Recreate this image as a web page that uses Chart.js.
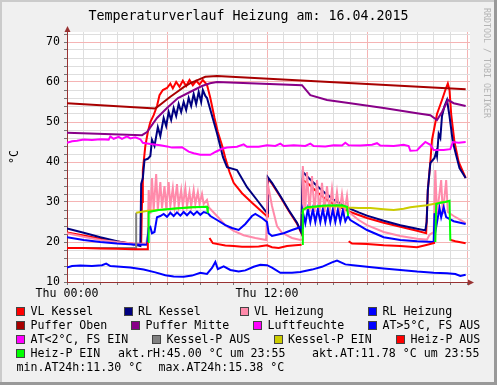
<!DOCTYPE html>
<html>
<head>
<meta charset="utf-8">
<script src="https://cdn.jsdelivr.net/npm/chart.js@4.4.1/dist/chart.umd.min.js"></script>
<style>
body { margin: 0; background: #f0f0f0; }
#wrap { position: relative; width: 497px; height: 385px; background: #f0f0f0; overflow: hidden;
        font-family: "DejaVu Sans Mono", monospace; color: #000; }
canvas { position: absolute; left: 0; top: 0; }
.t { position: absolute; white-space: pre; font-size: 11.6px; line-height: 14px; }
.box { position: absolute; width: 7px; height: 7px; border: 1px solid #444; }
.edge { position: absolute; }
</style>
</head>
<body>
<div id="wrap">
  <canvas id="chart" width="497" height="385"></canvas>
  <div id="title" class="t" style="left:0;width:497px;text-align:center;top:8px;font-size:13.3px;line-height:16px;"></div>
  <div id="unit" class="t" style="left:14px;top:157px;transform:translate(-50%,-50%) rotate(-90deg);"></div>
  <div id="credit" class="t" style="left:487px;top:63px;font-size:8.3px;line-height:10px;color:#b4b4b4;transform:translate(-50%,-50%) rotate(90deg);"></div>
  <div id="legend"></div>
  <div class="edge" style="left:0;top:0;width:497px;height:2px;background:#cbcbcb"></div>
  <div class="edge" style="left:0;top:0;width:2px;height:385px;background:#cbcbcb"></div>
  <div class="edge" style="left:494px;top:0;width:3px;height:385px;background:#999"></div>
  <div class="edge" style="left:0;top:382px;width:497px;height:3px;background:#999"></div>
</div>
<script>
// x = hours since Thu 00:00, y = °C (Luftfeuchte in %)
const chartTitle = 'Temperaturverlauf Heizung am: 16.04.2015';
const unitLabel = '°C';
const creditText = 'RRDTOOL / TOBI OETIKER';
const tickHours = [0, 12];
const tickLabels = ['Thu 00:00', 'Thu 12:00'];

const seriesNames = ['VL Kessel', 'RL Kessel', 'VL Heizung', 'RL Heizung', 'Puffer Oben', 'Puffer Mitte',
  'Luftfeuchte', 'AT>5°C, FS AUS', 'AT<2°C, FS EIN', 'Kessel-P AUS', 'Kessel-P EIN', 'Heiz-P AUS', 'Heiz-P EIN'];
const seriesColors = ['#ff0000', '#000080', '#ff8aaa', '#0000ff', '#a80000', '#880088',
  '#ff00ff', '#0000ff', '#ff00ff', '#808080', '#cccc00', '#ff0000', '#00ff00'];
const infoTexts = ['akt.rH:45.00 °C um 23:55', 'akt.AT:11.78 °C um 23:55', 'min.AT24h:11.30 °C', 'max.AT24h:15.38 °C'];

const vlKessel = [[0,22.4],[1,21.6],[2,20.8],[3,20.1],[4.35,19.3],[4.45,19.4],[4.5,30],[4.55,38],[4.7,44],
  [4.85,47.5],[5.0,50],[5.2,51.7],[5.4,54],[5.55,56.7],[5.75,58],[6.0,58.5],[6.2,59.6],[6.35,58.4],[6.55,60],
  [6.75,58.8],[6.95,60.3],[7.15,59],[7.35,60.5],[7.55,59.2],[7.75,60.3],[7.95,59.4],[8.15,60.5],[8.4,59.3],
  [8.6,56],[8.85,51],[9.05,47.5],[9.3,44.2],[9.5,41],[9.75,37.5],[10.0,34.8],[10.5,32.2],[11.1,29.8],
  [11.9,26.8],[12.0,26.4],[12.05,35.9],[12.3,34.6],[12.8,31.3],[13.3,27.8],[13.8,24.6],[14.05,22.3],[14.15,35.5],
  [14.5,34.5],[15,32.5],[15.5,30.8],[16,29.5],[16.5,28.5],[17,27.5],[18,26],[19,24.8],[20,23.8],[21,22.8],
  [21.55,22.2],[21.65,33],[21.8,40],[21.9,45.5],[22.2,52],[22.5,55.5],[22.7,58],[22.85,59.6],[22.95,58],
  [23.05,52],[23.25,45],[23.5,40],[23.92,36]];
const rlKessel = [[0,23.4],[1,22.3],[2,21.2],[3,20.2],[4.0,19.4],[4.4,19.0],[4.45,34.5],[4.55,36],[4.65,40.5],
  [4.85,40.8],[5.0,41.5],[5.1,45.5],[5.25,44],[5.45,48.7],[5.6,46.5],[5.8,51],[5.95,49],[6.1,52.5],[6.25,50.5],
  [6.4,53.5],[6.55,51.5],[6.7,54.5],[6.85,52.5],[7.0,55],[7.15,53],[7.3,56],[7.45,54],[7.6,57],[7.75,54.5],
  [7.9,57.5],[8.05,55],[8.15,58],[8.3,56.5],[8.4,56],[9.0,47.2],[9.36,41.2],[9.6,38.7],[10.2,38],[10.8,33.7],
  [11.4,30.5],[11.9,27.8],[12.0,27.3],[12.05,36.2],[12.3,34.8],[12.8,31.5],[13.3,28],[13.8,24.8],[14.05,22.5],
  [14.15,37.5],[14.5,36],[15,34],[15.5,32.2],[16,30.6],[16.5,29.3],[17,28.3],[17.5,27.4],[18,26.6],[19,25.3],
  [20,24.2],[21,23.3],[21.5,22.9],[21.58,25],[21.65,33],[21.8,39.7],[21.95,40.5],[22.05,41],[22.15,42.5],
  [22.2,41.5],[22.3,47],[22.4,46],[22.5,51.5],[22.65,54],[22.8,55.5],[22.95,51.5],[23.15,45],[23.35,41.7],
  [23.55,38.5],[23.92,36]];
const vlHeizung = [[0,22.2],[1,21.3],[2,20.5],[3,20.0],[4.0,19.6],[4.75,19.5],[4.85,22],[4.9,33],[5.0,27],
  [5.1,36],[5.2,28],[5.35,37],[5.45,28],[5.6,35],[5.7,28.5],[5.85,34],[5.95,28.5],[6.1,35],[6.2,29],[6.35,33.5],
  [6.45,29],[6.6,34.5],[6.7,29],[6.85,33],[6.95,29],[7.1,33.5],[7.2,29],[7.35,32.5],[7.45,29],[7.6,33],
  [7.7,29.5],[7.85,32.5],[7.95,29.5],[8.1,32],[8.2,29.5],[8.4,30.5],[8.5,28.7],[9.0,26.5],[9.5,24.2],
  [10,22.8],[10.6,21.7],[11.3,21],[11.95,20.5],[12.05,34.5],[12.3,29],[12.6,24],[12.9,22.3],[13.5,21],
  [14.0,20.5],[14.1,20.6],[14.15,39],[14.3,28],[14.4,37.5],[14.55,27.5],[14.7,36.5],[14.85,27.5],[15.0,35.5],
  [15.15,27.5],[15.3,34.8],[15.45,27.5],[15.6,34],[15.75,27.5],[15.9,33.3],[16.05,27.5],[16.2,32.5],
  [16.35,27.5],[16.5,32],[16.65,27.5],[16.8,31.5],[16.9,27.5],[17.5,25.5],[18,24.2],[19,22.5],[20,21.5],
  [21,20.8],[21.6,20.6],[21.75,21.8],[22.0,22.5],[22.1,38],[22.2,27],[22.45,35.5],[22.55,27],[22.75,35.5],
  [22.85,27.5],[23.2,26.5],[23.5,25.8],[23.92,24.7]];
const rlHeizung = [[0,21.2],[1,20.5],[2,20],[3,19.6],[4.0,19.4],[4.8,19.3],[4.9,23.5],[5.0,23.8],[5.1,22.2],
  [5.25,22.5],[5.4,26.2],[5.6,26.5],[5.8,27.0],[6.0,26.3],[6.2,27.3],[6.4,26.5],[6.6,27.4],[6.8,26.6],
  [7.0,27.5],[7.2,26.7],[7.4,27.6],[7.6,26.8],[7.8,27.6],[8.0,26.8],[8.2,27.5],[8.45,27.2],[8.6,26.5],
  [9.0,25.5],[9.5,24.2],[9.9,23.5],[10.3,23.0],[10.7,24.5],[11.1,26.5],[11.3,27.0],[11.7,26],[12.0,25],
  [12.1,22.2],[12.3,21.5],[13.0,22.2],[13.5,23],[14.0,23.7],[14.1,23.5],[14.15,27.5],[14.3,24.7],
  [14.45,28.2],[14.6,25],[14.75,28.2],[14.9,25],[15.05,28.2],[15.2,25],[15.35,28.2],[15.5,25],[15.65,28.2],
  [15.8,25],[15.95,28.1],[16.1,25],[16.25,28.0],[16.4,25],[16.55,27.9],[16.7,25.2],[16.85,26.5],[17.0,25.5],
  [17.5,24.2],[18,23],[19,21.2],[20,20.5],[21,20.2],[22,20],[22.05,27.2],[22.15,23.7],[22.35,28.5],
  [22.45,26.2],[22.6,28.7],[22.75,26.2],[23.2,25.2],[23.92,24.5]];
const pufferOben = [[0,54.7],[5.3,53.4],[5.55,54.2],[5.8,55],[6.2,56.3],[6.6,57.5],[7.0,58.7],[7.4,59.7],
  [7.9,60.6],[8.3,61.3],[9.0,61.5],[23.92,58.2]];
const pufferMitte = [[0,47.3],[4.5,46.7],[4.8,47.5],[5.4,51],[6.0,53.5],[6.66,56],[7.38,57.5],[8.1,59],
  [8.58,59.7],[9.0,60],[14.1,59.2],[14.6,56.7],[15.6,55.5],[17.0,54.7],[19.0,53.5],[21.0,52.2],[21.8,51.7],
  [22.2,50.5],[22.5,52.5],[22.86,55.5],[23.2,54.7],[23.92,54]];
const luftfeuchte = [[0,44.8],[0.3,45.2],[0.6,45.3],[1.0,45.6],[1.5,45.5],[2.0,45.7],[2.5,45.6],[2.6,46.4],
  [2.8,45.8],[3.1,46.3],[3.3,45.8],[3.6,46.4],[3.8,45.9],[4.1,46.2],[4.4,45.7],[4.55,44.8],[5.0,44.5],
  [5.6,44.2],[6.0,43.9],[6.3,43.6],[6.9,43.7],[7.3,42.6],[7.6,42.2],[8.0,41.8],[8.6,41.8],[8.9,42.5],
  [9.3,43.3],[9.6,43.6],[10.2,43.8],[10.6,44.4],[10.8,43.8],[11.5,43.8],[12.0,44.2],[12.5,44.0],[12.8,44.6],
  [13.0,44.0],[13.6,44.2],[14.3,44.0],[14.6,44.6],[14.8,44.0],[15.5,43.9],[16.0,44.2],[16.5,44.1],[16.7,44.8],
  [16.9,44.2],[17.6,44.1],[18.3,44.3],[18.6,44.7],[18.8,44.1],[19.6,44.0],[20.2,44.3],[20.5,44.0],[20.6,42.8],
  [21.0,42.9],[21.2,43.8],[21.5,45.0],[21.8,44.3],[22.0,43.0],[22.6,43.0],[23.0,43.2],[23.15,45.0],
  [23.5,44.8],[23.92,45.0]];
const aussenTemp = [[0,13.6],[0.3,14.0],[0.8,14.1],[1.5,14.0],[2.1,14.2],[2.35,14.6],[2.6,14.0],[3.2,13.8],
  [3.8,13.6],[4.6,13.1],[5.3,12.4],[5.9,11.7],[6.4,11.4],[7.0,11.3],[7.5,11.6],[8.0,12.3],[8.4,12.0],
  [8.7,13.5],[8.9,15.0],[9.05,13.2],[9.4,13.9],[9.8,13.0],[10.3,12.6],[10.7,12.9],[11.2,13.8],[11.6,14.3],
  [12.0,14.2],[12.3,13.6],[12.8,12.3],[13.5,12.3],[14.0,12.5],[14.7,13.1],[15.3,13.8],[15.9,14.9],[16.2,15.38],
  [16.7,14.4],[17.3,14.1],[18.0,13.8],[19.0,13.4],[20.0,13.0],[21.0,12.6],[22.0,12.3],[22.8,12.2],
  [23.3,12.0],[23.6,11.5],[23.92,11.8]];
const aussenKalt = [];
const kesselPAus = [[0,18.5],[4.14,18.5],[4.15,27.3]];
const kesselPEin = [[4.15,27.3],[4.85,27.8],[5.5,28],[6.5,28.4],[7.5,28.7],[8.4,28.8],[8.45,null],
  [14.12,27],[14.2,28.3],[15,28.8],[16,29],[16.85,28.6],[17.5,28.5],[18.2,28.5],[19.0,28.2],[19.6,28.0],
  [20.2,28.3],[20.6,28.7],[21.6,29.2],[22.2,29.7],[22.9,30.2]];
const heizPAus = [[0,18.5],[1,18.5],[2,18.4],[3,18.3],[4,18.2],[4.8,18.2],[4.85,20],[4.86,null],
  [8.55,21],[8.75,19.7],[9.5,19.1],[10,19],[10.5,18.8],[11,18.8],[11.5,18.9],[12,19.2],[12.3,18.7],
  [12.7,18.5],[13.2,19],[13.7,19.2],[14.08,19.3],[14.09,null],
  [16.9,20.2],[17.1,19.6],[18,19.5],[19,19.2],[20,19],[21,18.7],[21.5,19.2],[22.08,19.8],[22.09,null],
  [23.02,20.5],[23.3,20.2],[23.92,19.7]];
const heizPEin = [[4.86,20],[4.9,27.5],[5.5,28],[6.5,28.4],[7.5,28.7],[8.4,28.8],[8.45,27.2],[8.46,null],
  [14.1,19.5],[14.15,28],[14.4,28.7],[15.5,29.1],[16.5,29.2],[16.8,28.8],[16.87,26.5],[16.88,null],
  [22.1,20],[22.15,29.5],[22.4,29.8],[22.7,30],[22.95,30.3],[23.0,20.3]];

const seriesData = [vlKessel, rlKessel, vlHeizung, rlHeizung, pufferOben, pufferMitte, luftfeuchte,
  aussenTemp, aussenKalt, kesselPAus, kesselPEin, heizPAus, heizPEin];

const majorGrid = '#f5b4b4';
const minorGrid = '#dedede';
const axisColor = '#993333';

document.getElementById('title').textContent = chartTitle;
document.getElementById('unit').textContent = unitLabel;
document.getElementById('credit').textContent = creditText;

// legend, laid out like rrdtool's justified rows
const legendSpots = [[30.5,311],[138,311],[254,311],[382.5,311],[30.5,325],[145.5,325],[267.5,325],[382.5,325],
  [30.5,339],[166.5,339],[288,339],[410.5,339],[30.5,353]];
const infoSpots = [[118,353],[312,353],[16.5,367],[158.5,367]];
const legend = document.getElementById('legend');
seriesNames.forEach(function (name, i) {
  const [x, y] = legendSpots[i];
  const b = document.createElement('div');
  b.className = 'box';
  b.style.left = (x - 14.5) + 'px';
  b.style.top = (y - 4.5) + 'px';
  b.style.background = seriesColors[i];
  legend.appendChild(b);
  const t = document.createElement('div');
  t.className = 't';
  t.style.left = x + 'px';
  t.style.top = (y - 7) + 'px';
  t.textContent = name;
  legend.appendChild(t);
});
infoTexts.forEach(function (txt, i) {
  const t = document.createElement('div');
  t.className = 't';
  t.style.left = infoSpots[i][0] + 'px';
  t.style.top = (infoSpots[i][1] - 7) + 'px';
  t.textContent = txt;
  legend.appendChild(t);
});

const plotBg = {
  id: 'plotBg',
  beforeDraw(chart) {
    const a = chart.chartArea, c = chart.ctx;
    c.save();
    c.fillStyle = '#ffffff';
    c.fillRect(a.left, a.top, a.right - a.left, a.bottom - a.top);
    c.restore();
  },
  afterDraw(chart) {
    const a = chart.chartArea, c = chart.ctx;
    c.save();
    c.fillStyle = axisColor;
    c.beginPath();
    c.moveTo(a.left + 0.5, a.top - 6);
    c.lineTo(a.left - 2.5, a.top);
    c.lineTo(a.left + 3.5, a.top);
    c.closePath();
    c.fill();
    c.fillRect(a.left, a.top, 1, 2);
    c.beginPath();
    c.moveTo(a.right + 4, a.bottom + 0.5);
    c.lineTo(a.right - 2, a.bottom - 2.5);
    c.lineTo(a.right - 2, a.bottom + 3.5);
    c.closePath();
    c.fill();
    c.restore();
  }
};

const datasets = seriesData.map(function (pts, i) {
  return {
    label: seriesNames[i],
    data: pts.map(p => ({ x: p[0], y: p[1] })),
    borderColor: seriesColors[i],
    borderWidth: 2,
    pointRadius: 0,
    tension: 0,
    spanGaps: false,
    order: -i
  };
});

const monoFont = { family: 'DejaVu Sans Mono', size: 11.6 };

new Chart(document.getElementById('chart').getContext('2d'), {
  type: 'line',
  data: { datasets: datasets },
  options: {
    responsive: false,
    animation: false,
    devicePixelRatio: 1,
    layout: { padding: { left: 0, top: 32, right: 27, bottom: 83 } },
    plugins: { legend: { display: false }, tooltip: { enabled: false } },
    scales: {
      x: {
        type: 'linear', min: 0, max: 24.18,
        afterBuildTicks: function (s) {
          const t = [];
          for (let h = 0; h <= 24; h++) t.push({ value: h });
          s.ticks = t;
        },
        afterFit: function (s) { s.height = 20; },
        ticks: {
          autoSkip: false, maxRotation: 0, padding: 2, color: '#000', font: monoFont,
          callback: function (v) { const k = tickHours.indexOf(v); return k >= 0 ? tickLabels[k] : ''; }
        },
        grid: {
          color: c => (c.tick && c.tick.value % 6 === 0) ? majorGrid : minorGrid,
          tickLength: 3, tickColor: '#777'
        },
        border: { color: axisColor, width: 1 }
      },
      y: {
        min: 10, max: 72.5,
        afterBuildTicks: function (s) {
          const t = [];
          for (let v = 10; v <= 72; v += 2) t.push({ value: v });
          s.ticks = t;
        },
        afterFit: function (s) { s.width = 67; },
        ticks: {
          autoSkip: false, padding: 4, color: '#000', font: monoFont,
          callback: v => (v % 10 === 0 ? String(v) : '')
        },
        grid: {
          color: c => (c.tick && c.tick.value % 10 === 0) ? majorGrid : minorGrid,
          tickLength: 3, tickColor: '#777'
        },
        border: { color: axisColor, width: 1 }
      }
    }
  },
  plugins: [plotBg]
});
</script>
</body>
</html>
